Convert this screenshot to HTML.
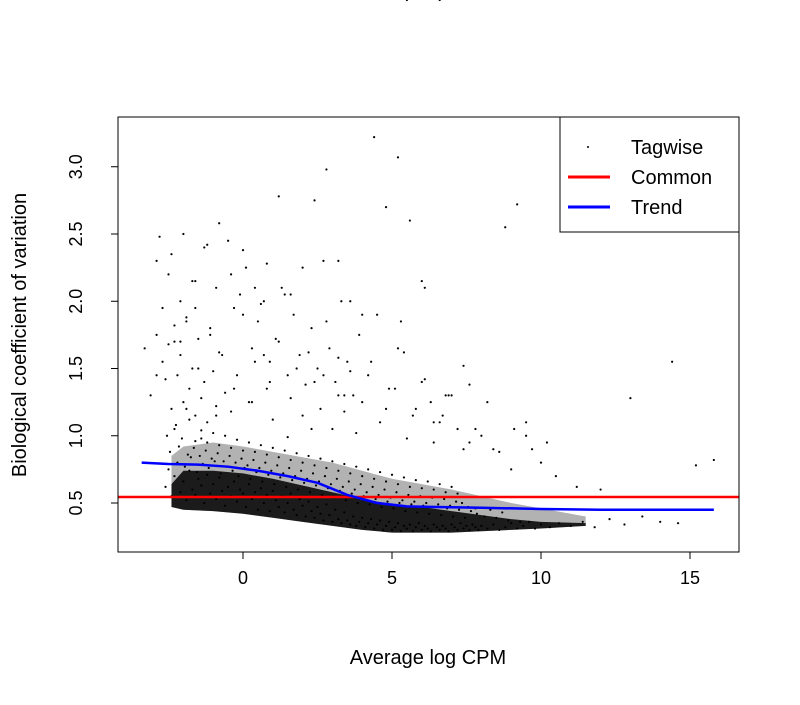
<!DOCTYPE html>
<html><head><meta charset="utf-8"><style>
body{margin:0;background:#fff}
svg text{font-family:"Liberation Sans",Arial,sans-serif;fill:#000}
</style></head><body>
<svg id="chart" width="800" height="700" viewBox="0 0 800 700">
<rect x="0" y="0" width="800" height="700" fill="#fff"/>
<g id="density"></g>
<g id="points"></g>
<g id="lines"></g>
<rect x="118" y="117" width="621" height="435" fill="none" stroke="#000" stroke-width="1"/>
<g id="axes"></g>
<text x="428" y="664" font-size="20" text-anchor="middle">Average log CPM</text>
<text transform="translate(26,335) rotate(-90)" font-size="20" text-anchor="middle">Biological coefficient of variation</text>
<g>
<rect x="560" y="117" width="179" height="115" fill="#fff" stroke="#000"/>
<circle cx="588" cy="147" r="1" fill="#000"/>
<text x="631" y="154" font-size="20">Tagwise</text>
<line x1="568" y1="177" x2="610" y2="177" stroke="#f00" stroke-width="3"/>
<text x="631" y="184" font-size="20">Common</text>
<line x1="568" y1="207" x2="610" y2="207" stroke="#00f" stroke-width="3"/>
<text x="631" y="214" font-size="20">Trend</text>
</g>
</svg>
<script>
const xTicks=[0,5,10,15];
const yTicks=[0.5,1.0,1.5,2.0,2.5,3.0];
const commonBCV=0.545;
const trendX=[-3.4,-2.5,-1.5,-0.5,0.5,1.5,2.5,3.5,4.5,5.5,6.5,8,10,12,14,15.8];
const trendY=[0.80,0.79,0.785,0.77,0.74,0.70,0.65,0.56,0.50,0.475,0.47,0.465,0.455,0.45,0.45,0.45];
const coreX=[-2.4,-2.0,-1.0,0.0,1.0,2.0,3.0,4.0,5.0,6.0,7.0,8.0,9.0,10.0,11.5];
const coreLo=[0.47,0.45,0.44,0.42,0.39,0.36,0.33,0.30,0.28,0.28,0.28,0.29,0.30,0.31,0.33];
const coreHi=[0.64,0.74,0.74,0.72,0.68,0.63,0.58,0.53,0.49,0.47,0.44,0.41,0.38,0.36,0.35];
const outerHi=[0.85,0.92,0.95,0.92,0.88,0.84,0.80,0.74,0.68,0.64,0.60,0.55,0.50,0.46,0.40];
const tagX=[-2.6,-2.4,-2.3,-2.1,-2.0,-1.9,-1.8,-1.7,-1.6,-1.5,-1.4,-1.3,-1.2,-1.1,-1.0,-0.9,-0.8,-0.7,-0.6,-0.5,-0.4,-0.3,-0.2,-0.1,0.0,0.1,0.2,0.3,0.4,0.5,0.6,0.7,0.8,0.9,1.0,1.1,1.2,1.3,1.4,1.5,1.6,1.7,1.8,1.9,2.0,2.1,2.2,2.3,2.4,2.5,2.6,2.7,2.8,2.9,3.0,3.1,3.2,3.3,3.4,3.5,3.6,3.7,3.8,3.9,4.0,4.1,4.2,4.3,4.4,4.5,4.6,4.7,4.8,4.9,5.0,5.1,5.2,5.3,5.4,5.5,5.6,5.7,5.8,5.9,6.0,6.1,6.2,6.3,6.4,6.5,6.6,6.7,6.8,6.9,7.0,7.1,7.2,7.3,7.4,7.5,7.6,7.7,7.8,7.9,8.0,8.2,8.4,8.6,8.8,9.0,9.2,9.4,9.6,9.8,10.0,10.3,10.6,11.0,11.4,11.8,12.3,12.8,13.4,14.0,14.6,15.2,15.8,
-2.5,-2.2,-1.95,-1.75,-1.55,-1.35,-1.15,-0.95,-0.75,-0.55,-0.35,-0.15,0.05,0.25,0.45,0.65,0.85,1.05,1.25,1.45,1.65,1.85,2.05,2.25,2.45,2.65,2.85,3.05,3.25,3.45,3.65,3.85,4.05,4.25,4.45,4.65,4.85,5.05,5.25,5.45,5.65,5.85,6.05,6.25,6.45,6.65,6.85,7.05,7.25,7.45,7.65,7.85,8.1,8.5,8.9,9.3,9.7,10.2,
-2.45,-2.15,-1.85,-1.65,-1.45,-1.25,-1.05,-0.85,-0.65,-0.45,-0.25,-0.05,0.15,0.35,0.55,0.75,0.95,1.15,1.35,1.55,1.75,1.95,2.15,2.35,2.55,2.75,2.95,3.15,3.35,3.55,3.75,3.95,4.15,4.35,4.55,4.75,4.95,5.15,5.35,5.55,5.75,5.95,6.15,6.35,6.55,6.75,6.95,7.15,7.35,7.55,7.8,8.3,8.7,9.1,9.5,
-2.55,-2.25,-2.05,-1.8,-1.6,-1.4,-1.2,-1.0,-0.8,-0.6,-0.4,-0.2,0.0,0.2,0.4,0.6,0.8,1.0,1.2,1.4,1.6,1.8,2.0,2.2,2.4,2.6,2.8,3.0,3.2,3.4,3.6,3.8,4.0,4.2,4.4,4.6,4.8,5.0,5.2,5.4,5.6,5.8,6.0,6.2,6.4,6.6,6.8,7.0,7.2,7.4,7.6,
-3.3,-3.1,-2.9,-2.7,-2.6,-2.5,-2.4,-2.3,-2.2,-2.1,-2.0,-1.9,-1.8,-1.7,-1.6,-1.5,-1.4,-1.3,-1.2,-1.1,-1.0,-0.9,-0.8,-0.6,-0.4,-0.2,0.0,0.2,0.4,0.6,0.8,1.0,1.2,1.4,1.6,1.8,2.0,2.2,2.4,2.6,2.8,3.0,3.2,3.4,3.6,3.8,4.0,4.3,4.6,4.9,5.2,5.5,5.8,6.1,6.4,6.7,7.0,7.4,7.8,8.2,8.6,9.0,9.5,10.0,10.5,11.2,12.0,13.0,14.4,
-2.9,-2.7,-2.5,-2.3,-2.1,-1.9,-1.7,-1.5,-1.3,-1.1,-0.9,-0.7,-0.5,-0.3,-0.1,0.1,0.3,0.5,0.7,0.9,1.1,1.3,1.5,1.7,1.9,2.1,2.3,2.5,2.7,2.9,3.1,3.3,3.5,3.7,3.9,4.2,4.5,4.8,5.1,5.4,5.7,6.0,6.3,6.6,6.9,7.2,7.6,8.0,8.4,8.8,9.2,
-2.8,-2.4,-2.0,-1.6,-1.2,-0.8,-0.4,0.0,0.4,0.8,1.2,1.6,2.0,2.4,2.8,3.2,3.6,4.0,4.4,4.8,5.2,5.6,6.0,6.4,6.8,
-2.9,-2.3,-1.9,-1.4,-0.9,-0.3,0.3,0.9,1.5,2.3,3.4,5.3,6.1,-1.6,-2.1,0.7,2.7,3.2,5.5,6.6];
const tagY=[0.62,0.55,0.70,0.58,0.66,0.52,0.74,0.60,0.56,0.68,0.63,0.50,0.71,0.57,0.64,0.53,0.69,0.59,0.48,0.62,0.55,0.66,0.51,0.60,0.57,0.47,0.64,0.53,0.58,0.45,0.61,0.50,0.56,0.44,0.59,0.52,0.47,0.55,0.43,0.50,0.57,0.45,0.41,0.53,0.48,0.40,0.51,0.44,0.39,0.47,0.42,0.37,0.49,0.41,0.36,0.45,0.38,0.35,0.43,0.37,0.34,0.40,0.33,0.36,0.39,0.32,0.35,0.38,0.31,0.34,0.37,0.30,0.33,0.36,0.30,0.32,0.35,0.29,0.33,0.31,0.34,0.29,0.32,0.35,0.30,0.33,0.31,0.29,0.34,0.32,0.30,0.33,0.31,0.29,0.34,0.32,0.30,0.35,0.31,0.33,0.30,0.34,0.32,0.30,0.33,0.31,0.34,0.30,0.32,0.35,0.31,0.33,0.36,0.31,0.34,0.32,0.35,0.33,0.36,0.32,0.38,0.34,0.40,0.36,0.35,
0.78,0.82,0.75,0.80,0.77,0.84,0.73,0.79,0.76,0.81,0.72,0.77,0.74,0.70,0.76,0.68,0.73,0.66,0.71,0.64,0.69,0.62,0.67,0.60,0.65,0.58,0.63,0.56,0.61,0.54,0.59,0.52,0.57,0.50,0.55,0.49,0.53,0.47,0.51,0.46,0.50,0.44,0.49,0.43,0.48,0.42,0.47,0.41,0.46,0.40,0.45,0.39,0.44,0.42,0.40,0.39,0.37,0.36,
0.90,0.95,0.88,0.92,0.86,0.91,0.85,0.89,0.83,0.87,0.81,0.85,0.80,0.83,0.78,0.82,0.76,0.80,0.74,0.78,0.72,0.76,0.70,0.74,0.68,0.72,0.66,0.70,0.64,0.68,0.62,0.66,0.60,0.64,0.58,0.62,0.56,0.60,0.54,0.58,0.52,0.56,0.51,0.55,0.50,0.54,0.49,0.53,0.48,0.51,0.50,0.47,0.46,0.45,0.43,
1.05,1.10,1.00,1.08,0.98,1.12,0.96,1.04,0.95,1.02,0.93,1.00,0.91,0.97,0.89,0.95,0.88,0.93,0.86,0.91,0.84,0.89,0.82,0.87,0.80,0.85,0.78,0.83,0.76,0.81,0.74,0.79,0.72,0.77,0.70,0.75,0.68,0.73,0.66,0.71,0.64,0.69,0.62,0.67,0.61,0.66,0.60,0.64,0.58,0.62,0.57,
1.52,1.38,1.65,1.30,1.75,1.55,1.42,1.68,1.20,1.82,1.45,1.60,1.25,1.85,1.35,1.50,1.15,1.72,1.28,1.40,1.10,1.80,1.48,1.22,1.62,1.32,1.18,1.45,1.90,1.25,1.55,1.98,1.35,1.12,1.70,2.05,1.28,1.50,1.15,1.62,1.40,1.20,1.85,1.05,1.58,1.30,1.48,1.02,1.25,1.55,1.10,1.35,1.65,0.98,1.20,1.42,0.95,1.15,1.30,0.90,1.05,1.25,0.88,0.75,1.00,0.80,0.70,0.62,0.60,
1.28,1.55,2.30,1.95,2.20,1.70,2.00,1.88,2.15,1.50,2.40,1.75,2.10,1.60,2.45,1.95,2.05,2.25,1.65,1.85,2.00,1.55,1.72,2.10,1.45,1.90,1.60,1.38,1.80,1.50,2.30,1.65,1.40,2.00,1.55,1.30,1.75,1.45,1.90,1.20,1.35,1.62,1.15,1.40,1.25,1.10,1.30,1.05,0.95,1.00,0.90,
2.55,2.72,2.48,2.35,2.50,2.15,2.42,2.58,2.20,2.38,2.10,2.28,2.78,2.05,2.25,2.75,2.98,2.30,2.00,1.90,3.22,2.70,3.07,2.60,2.15,
1.10,1.30,1.45,1.05,1.20,0.98,1.15,1.35,1.25,1.40,0.99,1.05,1.18,1.85,2.10,1.95,1.70,1.60,1.45,1.30];
const xs=v=>243+v*29.8, ys=v=>503-(v-0.5)*134.5;
const NS='http://www.w3.org/2000/svg';
const dg=document.getElementById('density');
function band(hi,lo,op,name){const p=document.createElementNS(NS,'polygon');
const pts=coreX.map((x,i)=>xs(x)+','+ys(hi[i])).concat(coreX.slice().reverse().map((x,j)=>{const i=coreX.length-1-j;return xs(x)+','+ys(lo[i]);}));
p.setAttribute('points',pts.join(' '));p.setAttribute('fill','#000');p.setAttribute('fill-opacity',op);p.setAttribute('stroke','none');p.setAttribute('stroke-linejoin','round');


dg.appendChild(p);}
band(outerHi,coreLo,0.3,'density-outer');
band(coreHi,coreLo,0.85,'density-core');
const pg=document.getElementById('points');
for(let i=0;i<tagX.length;i++){const c=document.createElementNS(NS,'circle');
c.setAttribute('cx',xs(tagX[i]));c.setAttribute('cy',ys(tagY[i]));c.setAttribute('r',1.1);c.setAttribute('fill','#000');


pg.appendChild(c);}
const lg=document.getElementById('lines');
const cl=document.createElementNS(NS,'line');
cl.setAttribute('x1',118);cl.setAttribute('x2',739);cl.setAttribute('y1',ys(commonBCV));cl.setAttribute('y2',ys(commonBCV));
cl.setAttribute('stroke','#f00');cl.setAttribute('stroke-width',2.5);


lg.appendChild(cl);
const tl=document.createElementNS(NS,'polyline');
tl.setAttribute('points',trendX.map((x,i)=>xs(x)+','+ys(trendY[i])).join(' '));
tl.setAttribute('fill','none');tl.setAttribute('stroke','#00f');tl.setAttribute('stroke-width',2.5);tl.setAttribute('stroke-linejoin','round');


lg.appendChild(tl);
const ag=document.getElementById('axes');
function add(tag,attrs,name,txt){const e=document.createElementNS(NS,tag);for(const k in attrs)e.setAttribute(k,attrs[k]);


if(txt!==undefined)e.textContent=txt;ag.appendChild(e);return e;}
add('line',{x1:xs(0),x2:xs(15),y1:552,y2:552,stroke:'#000'},'x-axis-line');
xTicks.forEach(t=>{add('line',{x1:xs(t),x2:xs(t),y1:552,y2:559,stroke:'#000'},'x-tick');
add('text',{x:xs(t),y:584,'font-size':18,'text-anchor':'middle'},'x-tick-label',String(t));});
add('line',{x1:118,x2:118,y1:ys(0.5),y2:ys(3.0),stroke:'#000'},'y-axis-line');
yTicks.forEach(t=>{add('line',{x1:111,x2:118,y1:ys(t),y2:ys(t),stroke:'#000'},'y-tick');
add('text',{x:0,y:0,'font-size':18,'text-anchor':'middle',transform:'translate(82,'+ys(t)+') rotate(-90)'},'y-tick-label',t.toFixed(1));});
</script>
</body></html>
